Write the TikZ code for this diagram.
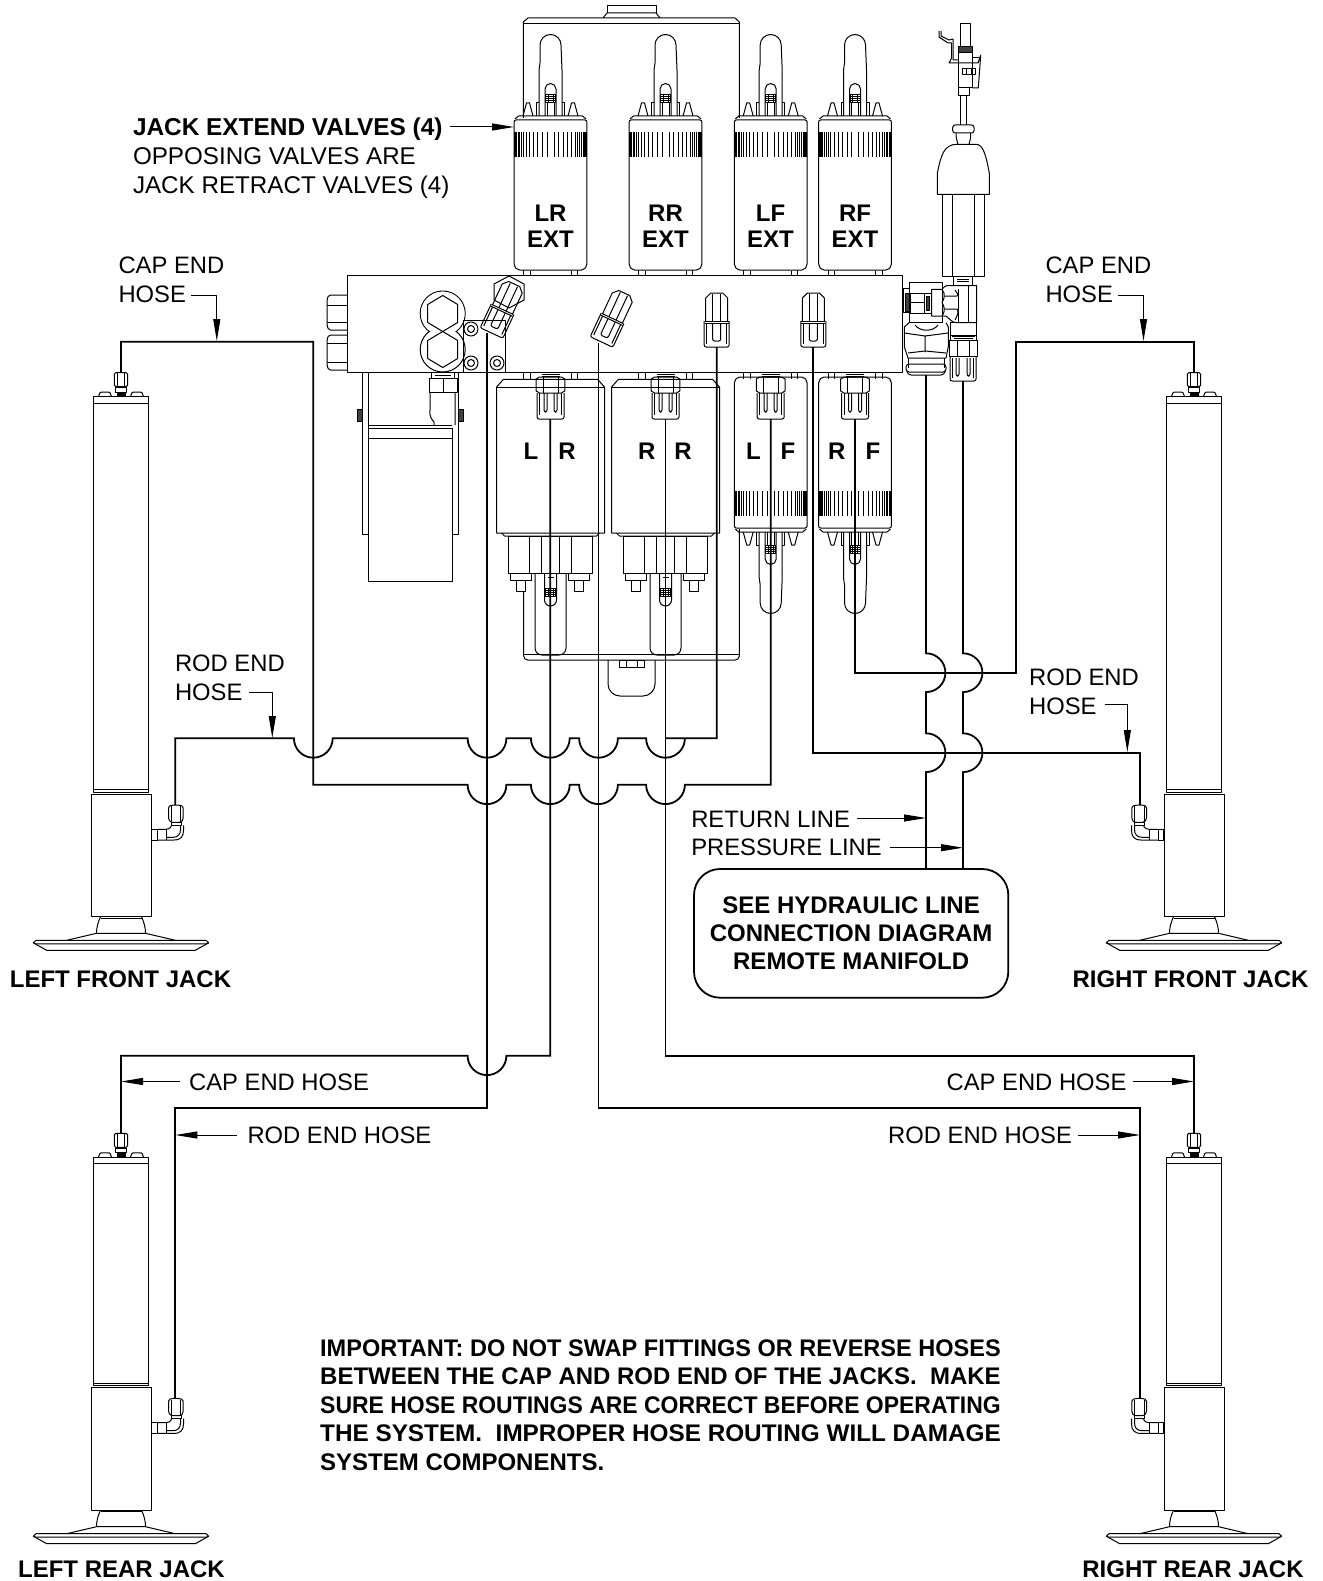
\documentclass[tikz,border=0pt]{standalone}
\usepackage{fontspec}
\usepackage{graphicx}
\setmainfont{Liberation Sans}
\usetikzlibrary{arrows.meta,calc}
\tikzset{
 hose/.style={line width=1.8pt,line join=miter},
 lead/.style={line width=1pt,-{Triangle[length=22pt,width=7pt]}},
 leadline/.style={line width=1pt},
 lab/.style={inner sep=0pt,align=left,font=\fontsize{23.8}{29}\selectfont},
 blab/.style={inner sep=0pt,align=center,font=\fontsize{24}{29}\selectfont\bfseries},
 dark/.style={fill=black!75},
}
% hex, pointy top
\newcommand\HexP[4]{\draw (#1,#2) ++(0,-#4) -- ++(#3,#4/2) -- ++(0,#4) -- ++(-#3,#4/2) -- ++(-#3,-#4/2) -- ++(0,-#4) -- cycle;}
% handle above y=0 of a valve
\newcommand\Handle{%
 \draw (-35.5,-1) -- (-32,-4) -- (32,-4) -- (35.5,-1);
 \draw (-27.5,-4) -- (-24,-17) -- (-21,-17) -- (-17.5,-4);
 \draw (27.5,-4) -- (24,-17) -- (21,-17) -- (17.5,-4);
 \draw (-14,-4) -- (-14,-17) -- (-11.5,-17) (14,-4) -- (14,-17) -- (11.5,-17);
 \draw (-11.5,-4) -- (-11.5,-50) -- (-10.5,-57) -- (-10.5,-75) arc[start angle=180,end angle=360,radius=10.5pt] -- (11.5,-50) -- (11.5,-4);
 \draw (-5.5,-4) -- (-5.5,-31) arc[start angle=180,end angle=360,radius=5.5pt] -- (5.5,-4);
 \draw (-5,-25) rectangle (5,-17);
 \draw (-5,-23) -- (5,-23) (-5,-21) -- (5,-21) (-5,-19) -- (5,-19) (-2.5,-25) -- (-2.5,-17) (2.5,-25) -- (2.5,-17);
 \draw (-3.5,-17) -- (-3.5,-4) (3.5,-17) -- (3.5,-4);
}
\newcommand\Stripes[2]{\foreach \o in {3.5,8,13,17,21,24.5,27,29,31,32.5,34,35,36}{\draw[line width=1pt] (-\o,#1) -- (-\o,#2) (\o,#1) -- (\o,#2);}}
% top (extend) valve
\newcommand\ValveTop[1]{\begin{scope}[shift={(#1,0)}]
 \draw[rounded corners=2pt] (-36.4,120) -- (36.4,120) -- (36.4,266) -- (33,270) -- (-33,270) -- (-36.4,266) -- cycle;
 \Stripes{132}{157}
 \draw (-27,270) -- (-27,276) (27,270) -- (27,276);
 \draw (-20.5,271) -- (-20.5,276) (20.5,271) -- (20.5,276);
 \begin{scope}[shift={(0,120)}]\Handle\end{scope}
\end{scope}}
% nut hanging under the manifold
\newcommand\NutDown[1]{\begin{scope}[shift={(#1,0)}]
 \draw (-27,372.5) -- (-27,379) (27,372.5) -- (27,379);
 \draw (-20.5,372.5) -- (-20.5,379) (20.5,372.5) -- (20.5,379);
 \draw (-9,374) -- (9,374) (-9,376) -- (9,376);
 \draw (-14.3,379) -- (-11,377) -- (11,377) -- (14.3,379) -- (14.3,391) -- (11,393) -- (-11,393) -- (-14.3,391) -- cycle;
 \draw (-7.5,377) -- (-7.5,393) (7.5,377) -- (7.5,393);
 \draw[rounded corners=2pt] (-13.5,393) -- (-13.5,419) -- (13.5,419) -- (13.5,393);
 \draw (-11,393) -- (-11,415) (11,393) -- (11,415);
 \draw[rounded corners=2pt] (-6.5,393) -- (-6.5,412) -- (-3.5,412) -- (-3.5,393);
 \draw[rounded corners=2pt] (6.5,393) -- (6.5,412) -- (3.5,412) -- (3.5,393);
\end{scope}}
% lower valve with handle (LF, RF)
\newcommand\ValveLow[1]{\begin{scope}[shift={(#1,0)}]
 \draw[rounded corners=2pt] (-36.4,381) -- (-33,377) -- (33,377) -- (36.4,381) -- (36.4,528) -- (-36.4,528) -- cycle;
 \Stripes{491}{516}
 \begin{scope}[shift={(0,528)},yscale=-1]\Handle\end{scope}
\end{scope}\NutDown{#1}}
% retract solenoid (LR, RR)
\newcommand\Sol[1]{\begin{scope}[shift={(#1,0)}]
 \draw (-54,387) -- (-47,379.3) -- (47,379.3) -- (54,387) -- (54,533) -- (-54,533) -- cycle;
 \draw (-54,387) -- (54,387);
 \draw (-49,533) -- (-46,536) -- (46,536) -- (49,533);
 \draw (-42.5,536) rectangle (41.5,573.3);
 \draw (-21.5,536) -- (-21.5,573.3) (-9.5,536) -- (-9.5,573.3) (9,536) -- (9,573.3) (21,536) -- (21,573.3);
 \draw (-40,573.3) rectangle (-19,580.5);
 \draw (-34,580.5) -- (-34,591) -- (-25,591) -- (-25,580.5);
 \draw (18,573.3) rectangle (39,580.5);
 \draw (24,580.5) -- (24,591) -- (33,591) -- (33,580.5);
 \draw (-6,573.3) -- (-6,600) arc[start angle=180,end angle=0,radius=6pt] -- (6,573.3);
 \draw (-5,588) rectangle (5,596);
 \draw (-5,590) -- (5,590) (-5,592) -- (5,592) (-5,594) -- (5,594) (-2.5,588) -- (-2.5,596) (2.5,588) -- (2.5,596);
 \draw (-3,577) -- (3,577);
 \draw[rounded corners=7pt] (-15.5,573.3) -- (-15.5,655) -- (15.5,655) -- (15.5,573.3);
\end{scope}\NutDown{#1}}
% straight hose fitting, origin at its hose end
\newcommand\FitA[3]{\begin{scope}[shift={(#1,#2)},rotate=#3]
 \draw (-11,-26) -- (-11,-49) -- (-6,-54) -- (6,-54) -- (11,-49) -- (11,-26);
 \draw (-4,-53) -- (-4,-26) (4,-53) -- (4,-26);
 \draw (-12,-26) -- (12,-26) (-12,-24) -- (12,-24);
 \draw[rounded corners=2pt] (-12.5,-26) -- (-12.5,0) -- (12.5,0) -- (12.5,-26);
 \draw (-10,-24) -- (-10,-3) (10,-24) -- (10,-3);
 \draw[rounded corners=2pt] (-4,-24) -- (-4,-6) -- (4,-6) -- (4,-24);
\end{scope}}
% one jack: centre, body top, lower barrel top, side
\newcommand\Jack[4]{\begin{scope}[shift={(#1,0)},xscale=#4]
 \draw (-27.8,#2) rectangle (27.8,#3-2);
 \draw (-27.8,#2+6.6) -- (27.8,#2+6.6);
 \draw (-27.8,#3-4.5) -- (27.8,#3-4.5);
 \draw (-30,#3) rectangle (30,#3+122.4);
 % top bolts and fitting
 \draw[rounded corners=1pt] (-22.5,#2) -- (-21,#2-4.5) -- (-11,#2-4.5) -- (-9.5,#2);
 \draw[rounded corners=1pt] (22.5,#2) -- (21,#2-4.5) -- (11,#2-4.5) -- (9.5,#2);
 \draw[fill=black] (-4,#2-4.5) rectangle (4,#2);
 \draw (-5.5,#2-9) rectangle (5.5,#2-4.5);
 \draw[rounded corners=1.5pt] (-6.7,#2-10) -- (-6.7,#2-24) -- (6.7,#2-24) -- (6.7,#2-10) -- cycle;
 \draw (-3.5,#2-24) -- (-3.5,#2-10) (3.5,#2-24) -- (3.5,#2-10);
 % base
 \draw (-20.5,#3+122.4) .. controls (-23,#3+128) and (-24.5,#3+133) .. (-24.5,#3+139);
 \draw (20.5,#3+122.4) .. controls (23,#3+128) and (24.5,#3+133) .. (24.5,#3+139);
 \draw (-20.5,#3+124) -- (20.5,#3+124);
 \draw (-54.3,#3+146) -- (-24.5,#3+139) -- (24.5,#3+139) -- (54.3,#3+146);
 \draw (-85,#3+146) -- (85,#3+146) -- (87.7,#3+148.5) -- (85,#3+149.5) -- (-85,#3+149.5) -- (-87.7,#3+148.5) -- cycle;
 \draw (-87.7,#3+148.5) -- (-74.3,#3+156) -- (74.3,#3+156) -- (87.7,#3+148.5);
 % elbow
 \draw[rounded corners=1.5pt] (47.5,#3+12) -- (47.5,#3+25) -- (50,#3+28) -- (60,#3+28) -- (62.2,#3+25) -- (62.2,#3+12) -- (58,#3+10.7) -- (51,#3+10.7) -- cycle;
 \draw (50,#3+12) -- (50,#3+27) (59.5,#3+12) -- (59.5,#3+27);
 \draw (50,#3+28) rectangle (60,#3+31);
 \draw (30.3,#3+35) rectangle (36,#3+45.7);
 \draw (36,#3+35) -- (45,#3+35) .. controls (50,#3+35) and (50,#3+31) .. (51,#3+31);
 \draw (36,#3+45.7) -- (53,#3+45.7) .. controls (60,#3+45.7) and (62.5,#3+42) .. (62.5,#3+36) -- (62.5,#3+31);
 \draw (45,#3+35) -- (45,#3+45.7);
 \draw (45,#3+43) -- (52,#3+43) .. controls (57,#3+43) and (59.5,#3+40) .. (59.5,#3+35) -- (59.5,#3+31);
\end{scope}}
\begin{document}
\begin{tikzpicture}[x=1pt,y=1pt,yscale=-1,line width=1pt,line join=round]
\useasboundingbox (0,0) rectangle (1322,1581);
% ---------- bracket behind the valves
\draw (523.3,118) -- (523.3,22) -- (528,18) -- (735,18) -- (739.3,22) -- (739.3,118);
\draw (523.3,24) -- (739.3,24);
\draw (603,18) -- (607,13) -- (656,13) -- (660,18);
\draw (607,13) -- (607,6) -- (656,6) -- (656,13);
% ---------- valves
\ValveTop{550.5}\ValveTop{665.5}\ValveTop{770.7}\ValveTop{855}
\Sol{550.5}\Sol{665.5}
\ValveLow{770.7}\ValveLow{855}
\node[blab] (tLR) at (550.5,226) {LR\\[-3pt]EXT};
\node[blab] (tRR) at (665.5,226) {RR\\[-3pt]EXT};
\node[blab] (tLF) at (770.5,226) {LF\\[-3pt]EXT};
\node[blab] (tRF) at (855,226) {RF\\[-3pt]EXT};
\node[blab] (l1) at (531,451) {L};
\node[blab] (r1) at (567,451) {R};
\node[blab] (r2) at (646.7,451) {R};
\node[blab] (r3) at (683,451) {R};
\node[blab] (l2) at (753.5,451) {L};
\node[blab] (f1) at (788,451) {F};
\node[blab] (r4) at (836.7,451) {R};
\node[blab] (f2) at (873,451) {F};
% ---------- lower bracket
\draw[rounded corners=4pt] (523.7,592) -- (523.7,660) -- (739.3,660) -- (739.3,529);
\draw (523.7,654) -- (739.3,654);
\draw[rounded corners=12pt] (608,660) -- (608,696) -- (655,696) -- (655,660);
\draw (619,660) rectangle (644,667);
\draw (626,660) -- (626,667) (637,660) -- (637,667);
% ---------- manifold
\draw (347.3,275.7) rectangle (902.7,372.3);
\draw[rounded corners=1.5pt] (347.3,295) -- (329,295) -- (327,299) -- (327,326) -- (329,330) -- (347.3,330);
\draw (327,305) -- (347.3,305) (327,322) -- (347.3,322);
\draw[rounded corners=1.5pt] (347.3,335) -- (329,335) -- (327,339) -- (327,366) -- (329,370) -- (347.3,370);
\draw (327,343) -- (347.3,343) (327,362) -- (347.3,362);
% figure-eight plugs
\draw (442.7,313.5) circle[radius=22.5pt];
\draw[fill=white] (442.7,349.5) circle[radius=22.5pt];
\draw[draw=none,fill=white] (442.7,313.5) circle[radius=21.8pt];
\HexP{442.7}{313.5}{15}{18}
\HexP{442.7}{349.5}{15}{18}
% plate
\draw (463,320) rectangle (505,372.3);
\draw (471,329) circle[radius=7pt] (471,329) circle[radius=3.5pt];
\draw (471,363) circle[radius=7pt] (471,363) circle[radius=3.5pt];
\draw (497,363) circle[radius=7pt] (497,363) circle[radius=3.5pt];
% fittings on the manifold
\HexP{509}{292}{15}{16}
\FitA{491.5}{333}{25}
\FitA{601.5}{342}{25}
\FitA{716.7}{347}{0}
\FitA{813.3}{347}{0}
% ---------- left mount under manifold
\draw (362,372.3) -- (362,534) -- (368,534);
\draw (458,372.3) -- (458,534) -- (452,534);
\draw (368,372.3) -- (368,581.7) -- (452,581.7) -- (452,428);
\draw (368,425) -- (452,425) (368,428) -- (452,428) (368,438) -- (452,438);
\draw[dark] (357,409) rectangle (362,421);
\draw[dark] (458,409) rectangle (463,421);
\draw (431.5,372.3) -- (431.5,378) (454,372.3) -- (454,378);
\draw (435,375) -- (451,375);
\draw (429,378.3) rectangle (457,392.7);
\draw (443,378.3) -- (443,392.7);
\draw (430,392.7) -- (430,410) .. controls (429,416) and (432,420) .. (434,422) -- (434,426) (455,392.7) -- (455,425);
% ---------- pressure switch stack
\draw (960.7,23.3) rectangle (970.7,47);
\draw[dark] (958.5,47) rectangle (972.5,53);
\draw (958.3,53) rectangle (972.3,88);
\draw (958.3,63) -- (978,63) -- (980.7,55) -- (978.3,88) -- (972.3,88);
\draw (972.3,58) -- (979,58);
\draw (962.3,68.3) rectangle (975.7,75);
\draw (966.5,68.3) -- (966.5,75) (971,68.3) -- (971,75);
\draw (939,31) -- (939,37) -- (948,43) -- (951.7,43) -- (951.7,58) -- (949,63) -- (958.3,63);
\draw (941,31) -- (941,36) -- (949,40) -- (953,39) -- (953,60) -- (958.3,60);
\draw (958.3,88) rectangle (969.3,95.7);
\draw (960.7,95.7) -- (960.7,125) (966.7,95.7) -- (966.7,125);
\draw[rounded corners=2.5pt] (952.7,125) rectangle (974,133);
\draw (956,133) .. controls (956,138) and (957,141) .. (958,144.5) (970.7,133) .. controls (970.7,138) and (970,141) .. (969,144.5);
\draw (937.3,173.3) .. controls (941,155) and (944,144.3) .. (957,144.3) -- (976,144.3) .. controls (983,144.3) and (986,155) .. (989.3,173.3) -- (989.3,194.3) -- (937.3,194.3) -- cycle;
\draw (942.3,194.3) rectangle (984.3,276.7);
\draw (952.7,194.3) -- (952.7,276.7) (974,194.3) -- (974,276.7);
\draw (953.3,276.7) rectangle (972.3,285.7);
\draw (957,279) -- (969,279) (957,281) -- (969,281);
% tee
\draw (946.7,285.7) -- (976.7,285.7) -- (976.7,322.7) -- (957,322.7) .. controls (952,322.7) and (951,320) .. (946,316) -- (931.7,316) -- (931.7,289.3) -- (942,289.3) .. controls (944,287) and (945,286) .. (946.7,285.7);
\draw (942,289.3) .. controls (946,295) and (944,299) .. (942,302.5) .. controls (944,306) and (946,310) .. (942,316);
\draw (955,290) .. controls (958,294) and (959,296) .. (957,296) -- (945,296) (945,309) -- (957,309) .. controls (959,310) and (958,315) .. (955,320);
\draw (958,289) -- (958,322) (968,285.7) -- (968,322.7);
\draw (950,322.7) rectangle (976.7,335);
\draw (952,336) -- (975,336) (954,338) -- (973,338) (950,335) -- (950,340) (976.7,335) -- (976.7,340);
\draw (949,340) rectangle (977.3,356);
\draw (957,340) -- (957,356) (969,340) -- (969,356);
\draw[rounded corners=2pt] (950,356) -- (950,381) -- (976,381) -- (976,356);
\draw[rounded corners=2pt] (956,358) -- (956,376) -- (959,376) -- (959,358);
\draw[rounded corners=2pt] (970,358) -- (970,376) -- (967,376) -- (967,358);
\draw (952.5,358) -- (952.5,378) (973.5,358) -- (973.5,378);
% side unit and return port
\draw (909.3,282.7) -- (942.7,282.7) -- (942.7,322.7) -- (909.3,322.7) -- cycle;
\draw (903,288) rectangle (909.3,312.7);
\draw[dark] (905,293) rectangle (909.3,311);
\draw (910.5,293) rectangle (924,313.3);
\draw (910.5,302) -- (924,302);
\draw (924,293) rectangle (931.7,313.3);
\draw[dark] (926,296) rectangle (929,310);
\draw (909,322.7) -- (904.3,327) -- (904.3,346.7) -- (908,358) -- (946,358) -- (948.3,346.7) -- (948.3,327) -- (946,322.7);
\draw (915,325) .. controls (920,332) and (933,332) .. (938,325);
\draw (904.3,333) -- (925,336) -- (948.3,333) (925,336) -- (925,352);
\draw (908,353) -- (925,351) -- (946,353);
\draw (908,358) -- (908,368) (944,358) -- (944,368);
\draw[rounded corners=3pt] (906,364) -- (946,364) -- (946,372) -- (906,372) -- cycle;
\draw[rounded corners=4pt] (907,372) -- (907,375) -- (945,375) -- (945,372);
% ---------- jacks
\Jack{121}{396.7}{794.3}{1}
\Jack{1194}{396.7}{794.3}{-1}
\Jack{121}{1157.3}{1387.7}{1}
\Jack{1194}{1157.3}{1387.7}{-1}
% ---------- hose ends
\coordinate (LFcap) at (121,372.7);
\coordinate (LFrod) at (175.3,805);
\coordinate (RFcap) at (1194,372.7);
\coordinate (RFrod) at (1140,805);
\coordinate (LRcap) at (121,1133.3);
\coordinate (LRrod) at (175.3,1398);
\coordinate (RRcap) at (1194,1133.3);
\coordinate (RRrod) at (1140,1398);
\coordinate (pA) at (487,333);
\coordinate (pB) at (598.5,343);
\coordinate (pC) at (716.7,347);
\coordinate (pD) at (813.3,347);
\coordinate (pE) at (550.3,419);
\coordinate (pF) at (665.5,419);
\coordinate (pG) at (770.7,419);
\coordinate (pH) at (855,419);
\coordinate (pRet) at (926,375);
\coordinate (pPre) at (963,381);
% ---------- box
\node[draw,line width=1.8pt,rounded corners=26pt,minimum width=314.3pt,minimum height=128.7pt,inner sep=0pt,blab] (box) at (851.15,933.35) {SEE HYDRAULIC LINE\\[-0.7pt]CONNECTION DIAGRAM\\[-0.7pt]REMOTE MANIFOLD};
% ---------- hoses
\draw[hose] (pC) -- (716.7,738.3) -- (665.5,738.3) ++(19.4,0) arc[start angle=0,end angle=180,radius=19.4pt] -- (617.9,738.3) arc[start angle=0,end angle=180,radius=19.4pt] -- (569.7,738.3) arc[start angle=0,end angle=180,radius=19.4pt] -- (506.4,738.3) arc[start angle=0,end angle=180,radius=19.4pt] -- (332.7,738.3) arc[start angle=0,end angle=180,radius=19.4pt] -- (175.3,738.3) -- (LFrod);
\draw[hose] (LFcap) -- (121,341.7) -- (313.3,341.7) -- (313.3,784.7) -- (467.6,784.7) arc[start angle=180,end angle=0,radius=19.4pt] -- (530.9,784.7) arc[start angle=180,end angle=0,radius=19.4pt] -- (579.1,784.7) arc[start angle=180,end angle=0,radius=19.4pt] -- (646.1,784.7) arc[start angle=180,end angle=0,radius=19.4pt] -- (770.7,784.7) -- (pG);
\draw[hose] (pA) -- (487,1107.7) -- (175.3,1107.7) -- (LRrod);
\draw[hose] (pE) -- (550.3,1055.7) -- (506.4,1055.7) arc[start angle=0,end angle=180,radius=19.4pt] -- (121,1055.7) -- (LRcap);
\draw[hose] (pB) -- (598.5,1107.7) -- (1140,1107.7) -- (RRrod);
\draw[hose] (pF) -- (665.5,1055.7) -- (1194,1055.7) -- (RRcap);
\draw[hose] (pH) -- (855,672.7) -- (1016,672.7) -- (1016,341.7) -- (1194,341.7) -- (RFcap);
\draw[hose] (pD) -- (813.3,752.7) -- (1140,752.7) -- (RFrod);
\draw[hose] (pRet) -- (926,653.3) arc[start angle=-90,end angle=90,radius=19.4pt] -- (926,733.3) arc[start angle=-90,end angle=90,radius=19.4pt] -- (926,869);
\draw[hose] (pPre) -- (963,653.3) arc[start angle=-90,end angle=90,radius=19.4pt] -- (963,733.3) arc[start angle=-90,end angle=90,radius=19.4pt] -- (963,869);
% ---------- labels
\node[lab,anchor=west] (ext) at (132.5,158) {{\fontsize{24.4}{29}\selectfont\bfseries JACK EXTEND VALVES (4)}\\\fontsize{24.2}{29}\selectfont OPPOSING VALVES ARE\\\fontsize{24.2}{29}\selectfont JACK RETRACT VALVES (4)};
\coordinate (extA) at (449.5,127);\coordinate (extB) at (514,127);
\draw[lead] (extA) -- (extB);
\node[lab,anchor=west] (capL) at (118,280) {CAP END\\HOSE};
\coordinate (capLa) at (191,295);\coordinate (capLb) at (216.8,295);\coordinate (capLc) at (216.8,341);
\draw[lead] (capLa) -- (capLb) -- (capLc);
\node[lab,anchor=west] (capR) at (1045,280) {CAP END\\HOSE};
\coordinate (capRa) at (1118,295);\coordinate (capRb) at (1143.5,295);\coordinate (capRc) at (1143.5,341);
\draw[lead] (capRa) -- (capRb) -- (capRc);
\node[lab,anchor=west] (rodL) at (174.5,677.5) {ROD END\\HOSE};
\coordinate (rodLa) at (249,692);\coordinate (rodLb) at (272.3,692);\coordinate (rodLc) at (272.3,738);
\draw[lead] (rodLa) -- (rodLb) -- (rodLc);
\node[lab,anchor=west] (rodR) at (1028.6,691.5) {ROD END\\HOSE};
\coordinate (rodRa) at (1105,704.5);\coordinate (rodRb) at (1127.3,704.5);\coordinate (rodRc) at (1127.3,752);
\draw[lead] (rodRa) -- (rodRb) -- (rodRc);
\node[lab,anchor=west] (ret) at (690.8,819) {RETURN LINE};
\coordinate (retb) at (926,818);
\draw[lead] (856.7,818) -- (retb);
\node[lab,anchor=west] (pre) at (690.8,847.5) {PRESSURE LINE};
\coordinate (preb) at (963,847.7);
\draw[lead] (890,847.7) -- (preb);
\node[blab] (jLF) at (120.5,979.5) {LEFT FRONT JACK};
\node[blab] (jRF) at (1190.5,979.5) {RIGHT FRONT JACK};
\node[blab] (jLR) at (121.5,1569.5) {LEFT REAR JACK};
\node[blab] (jRR) at (1193,1569.5) {RIGHT REAR JACK};
\node[lab,anchor=west] (c1) at (188.6,1082) {CAP END HOSE};
\coordinate (c1b) at (121,1081.5);
\draw[lead] (179.5,1081.5) -- (c1b);
\node[lab,anchor=west] (c2) at (247,1135) {ROD END HOSE};
\coordinate (c2b) at (175.3,1135);
\draw[lead] (237,1135) -- (c2b);
\node[lab,anchor=east] (c3) at (1127,1082) {CAP END HOSE};
\coordinate (c3b) at (1194,1081.5);
\draw[lead] (1132.5,1081.5) -- (c3b);
\node[lab,anchor=east] (c4) at (1072.5,1135) {ROD END HOSE};
\coordinate (c4b) at (1140,1135);
\draw[lead] (1078,1135) -- (c4b);
\node[inner sep=0pt,align=left,anchor=north west,font=\fontsize{24}{28.5}\selectfont\bfseries] (imp) at (319.7,1339) {\resizebox{680.5pt}{\height}{IMPORTANT: DO NOT SWAP FITTINGS OR REVERSE HOSES}\\\resizebox{680.5pt}{\height}{BETWEEN THE CAP AND ROD END OF THE JACKS.\ \ MAKE}\\\resizebox{680.5pt}{\height}{SURE HOSE ROUTINGS ARE CORRECT BEFORE OPERATING}\\\resizebox{680.5pt}{\height}{THE SYSTEM.\ \ IMPROPER HOSE ROUTING WILL DAMAGE}\\SYSTEM COMPONENTS.};
\end{tikzpicture}
\end{document}
